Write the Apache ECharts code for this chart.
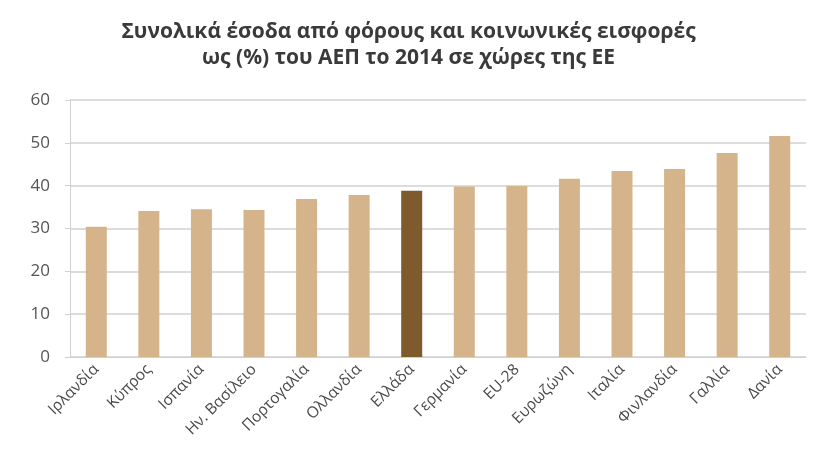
<!DOCTYPE html>
<html>
<head>
<meta charset="utf-8">
<script src="https://cdn.jsdelivr.net/npm/echarts@6/dist/echarts.min.js"></script>
<style>
  html, body { margin: 0; padding: 0; background: #fff; }
  #chart { width: 817px; height: 456px; }
</style>
</head>
<body>
<div id="chart"></div>
<script>
// Total revenue from taxes and social contributions, % of GDP, 2014
const countries = ['Ιρλανδία', 'Κύπρος', 'Ισπανία', 'Ην. Βασίλειο', 'Πορτογαλία', 'Ολλανδία', 'Ελλάδα',
                   'Γερμανία', 'EU-28', 'Ευρωζώνη', 'Ιταλία', 'Φινλανδία', 'Γαλλία', 'Δανία'];
const revenueShare = [30.4, 34.1, 34.5, 34.3, 36.9, 37.8, 38.8, 39.8, 39.9, 41.6, 43.4, 43.9, 47.6, 51.6];
const highlighted = 'Ελλάδα';

const baseColor = '#d5b48b';
const highlightColor = '#7e5a2d';

const chart = echarts.init(document.getElementById('chart'));
chart.setOption({
  backgroundColor: '#ffffff',
  animation: false,
  title: {
    text: 'Συνολικά έσοδα από φόρους και κοινωνικές εισφορές\nως (%) του ΑΕΠ το 2014 σε χώρες της ΕΕ',
    left: 'center',
    top: 14,
    textStyle: {
      fontFamily: 'Open Sans',
      fontSize: 21,
      fontWeight: 'bold',
      color: '#3a3a3a',
      lineHeight: 26
    }
  },
  grid: { left: 70, right: 11, top: 100, bottom: 99 },
  xAxis: {
    type: 'category',
    data: countries,
    axisLine: { show: true, lineStyle: { color: '#d0d0d0', width: 1 } },
    axisTick: { show: false },
    axisLabel: {
      rotate: 45,
      interval: 0,
      margin: 10,
      fontFamily: 'Open Sans',
      fontSize: 15.5,
      color: '#4a4a4a'
    }
  },
  yAxis: {
    type: 'value',
    min: 0,
    max: 60,
    interval: 10,
    axisLine: { show: true, lineStyle: { color: '#d0d0d0', width: 1 } },
    axisTick: { show: true, length: 5, lineStyle: { color: '#d0d0d0' } },
    axisLabel: {
      margin: 20,
      fontFamily: 'Open Sans',
      fontSize: 17,
      color: '#555555'
    },
    splitLine: { lineStyle: { color: '#d0d0d0', width: 1.5 } }
  },
  series: [{
    type: 'bar',
    barWidth: 21,
    data: revenueShare.map((v, i) => ({
      value: v,
      itemStyle: { color: countries[i] === highlighted ? highlightColor : baseColor }
    }))
  }]
});
</script>
</body>
</html>
